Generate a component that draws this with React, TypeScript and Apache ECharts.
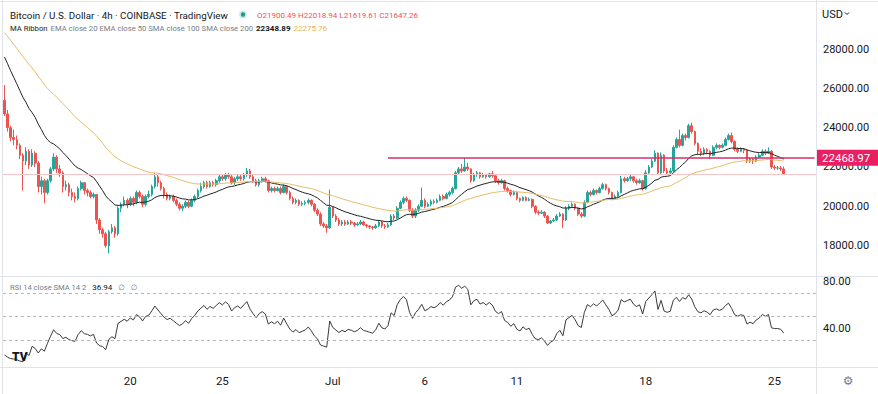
import React, { useEffect, useRef } from 'react';
import * as echarts from 'echarts';

// ---- data (BTC/USD, 4h candles, Coinbase) ----
const startTime = Date.UTC(2022, 5, 13, 4); // first candle
const candleHours = 4;
const emptySlots = 10; // blank space right of the last candle
const firstOpen = 25400;

const closes = [
  24700, 24000, 23500, 23400, 23100, 22600, 22300, 22800, 22100, 22700,
  22200, 21000, 21300, 20700, 21300, 21900, 22500, 21900, 21700, 21000,
  21100, 20700, 20500, 20400, 20900, 21200, 20800, 20700, 20500, 20600,
  19300, 18800, 18600, 18000, 18700, 18900, 18600, 19900, 20100, 20300,
  20100, 20400, 20200, 20700, 20500, 20100, 20500, 20600, 21000, 21500,
  21200, 20900, 20600, 20400, 20500, 20300, 20100, 19900, 20000, 20200,
  20000, 20300, 20500, 20800, 21000, 21200, 21000, 21200, 21100, 21300,
  21500, 21400, 21600, 21500, 21200, 21400, 21500, 21400, 21600, 21800,
  21500, 21300, 21100, 21300, 21400, 21300, 20800, 20900, 20800, 20900,
  20700, 21000, 20700, 20400, 20200, 20300, 20100, 20150, 20200, 20300,
  20100, 19800, 19600, 19100, 19000, 18900, 19950, 19500, 19300, 19100,
  19200, 19100, 19200, 19150, 19050, 19100, 19200, 19050, 19000, 18950,
  18900, 19000, 19200, 19000, 18950, 19050, 19500, 19400, 19900, 20200,
  20400, 20300, 19800, 19500, 19800, 20000, 20300, 20000, 20100, 20250,
  20200, 20300, 20500, 20400, 20600, 20700, 20900, 21700, 21900, 21800,
  22000, 21900, 21300, 21600, 21700, 21500, 21600, 21500, 21650, 21550,
  21300, 21200, 21300, 20900, 20800, 20600, 20700, 20400, 20300, 20450,
  20300, 20350, 20000, 19700, 19650, 19700, 19500, 19150, 19250, 19300,
  19500, 19600, 19300, 19900, 20000, 20100, 19900, 19600, 19500, 20200,
  20700, 20600, 20800, 20700, 20900, 21100, 20900, 20700, 20400, 20500,
  20700, 21400, 21300, 21400, 21500, 21300, 21200, 21300, 20900, 21700,
  22000, 22300, 22700, 21700, 22600, 21800, 21700, 21800, 23000, 23400,
  23100, 23600, 23500, 24100, 23800, 23200, 22800, 22700, 22900, 22800,
  22600, 23000, 23100, 23000, 23100, 23400, 23600, 23300, 22900, 22800,
  22900, 22850, 22300, 22400, 22300, 22500, 22600, 22800, 22700, 22800,
  22000, 21950, 21950, 21900.49, 21647.26,
];

const highs = [
  26170, 24900, 24100, 23900, 23600, 23200, 22700, 23000, 22900, 22900,
  22800, 22300, 21500, 21400, 21400, 22000, 22700, 22600, 22100, 21800,
  21300, 21200, 20900, 20700, 21000, 21300, 21200, 20900, 20800, 20700,
  20600, 19400, 18900, 18700, 18800, 19100, 19000, 20000, 20200, 20500,
  20400, 20500, 20500, 20800, 20800, 20600, 20600, 20800, 21100, 21700,
  21600, 21300, 21000, 20700, 20600, 20600, 20400, 20200, 20100, 20300,
  20300, 20400, 20600, 20900, 21200, 21300, 21300, 21300, 21300, 21400,
  21600, 21600, 21700, 21700, 21600, 21500, 21600, 21600, 21700, 21950,
  21900, 21600, 21400, 21400, 21500, 21500, 21350, 21000, 21000, 21000,
  21000, 21100, 21050, 20800, 20500, 20400, 20350, 20250, 20300, 20400,
  20350, 20150, 19900, 19700, 19200, 19100, 20850, 20000, 19600, 19400,
  19300, 19300, 19300, 19300, 19200, 19200, 19300, 19250, 19100, 19050,
  19000, 19100, 19300, 19250, 19100, 19150, 19600, 19600, 20000, 20300,
  20500, 20500, 20350, 19900, 19900, 20100, 20950, 20400, 20200, 20350,
  20350, 20400, 20600, 20600, 20700, 20800, 21000, 21800, 22000, 22150,
  22470, 22200, 21950, 21700, 21800, 21750, 21700, 21650, 21700, 21800,
  21600, 21400, 21400, 21350, 21000, 20850, 20800, 20750, 20450, 20500,
  20500, 20450, 20400, 20050, 19800, 19800, 19750, 19550, 19300, 19400,
  19600, 19700, 19650, 20000, 20100, 20200, 20150, 19950, 19700, 20300,
  20800, 20800, 20900, 20850, 21000, 21200, 21150, 20950, 20750, 20600,
  20800, 21550, 21500, 21500, 21650, 21550, 21400, 21400, 21350, 21850,
  22100, 22400, 22850, 22750, 22750, 22650, 21950, 21950, 23100, 23500,
  23900, 23700, 23700, 24200, 24250, 23850, 23250, 22950, 23000, 22950,
  22850, 23100, 23200, 23150, 23200, 23500, 23700, 23750, 23350, 23000,
  23000, 22950, 22900, 22500, 22450, 22600, 22700, 22900, 22900, 23000,
  22850, 22100, 22050, 22050, 22018.94,
];

const lows = [
  24600, 23800, 23300, 23100, 22900, 22400, 20800, 22100, 21900, 22000,
  22000, 20700, 20600, 20150, 20600, 21200, 21800, 21700, 21500, 20700,
  20800, 20500, 20300, 20200, 20300, 20800, 20600, 20500, 20400, 20400,
  19100, 18600, 18400, 17900, 17600, 18600, 18400, 18500, 19700, 20000,
  19900, 20000, 20000, 20100, 20400, 19950, 20000, 20400, 20500, 20900,
  21000, 20800, 20400, 20300, 20300, 20200, 20000, 19800, 19750, 19900,
  19900, 19950, 20200, 20400, 20700, 20900, 20900, 20950, 21000, 21000,
  21200, 21300, 21300, 21400, 21100, 21100, 21300, 21300, 21300, 21500,
  21400, 21200, 21000, 21000, 21200, 21200, 20700, 20700, 20700, 20750,
  20600, 20650, 20600, 20300, 20100, 20100, 20000, 20000, 20050, 20100,
  20000, 19700, 19500, 19000, 18900, 18650, 18850, 19400, 19200, 19000,
  19000, 19000, 19050, 19050, 18950, 19000, 19050, 19000, 18900, 18850,
  18800, 18850, 18950, 18900, 18850, 18900, 19000, 19300, 19350, 19850,
  20100, 20200, 19700, 19400, 19400, 19700, 19950, 19900, 19950, 20000,
  20100, 20150, 20250, 20300, 20350, 20500, 20600, 20850, 21600, 21700,
  21750, 21800, 21200, 21250, 21500, 21400, 21450, 21400, 21450, 21450,
  21200, 21100, 21150, 20800, 20700, 20500, 20550, 20300, 20200, 20250,
  20250, 20250, 19900, 19600, 19550, 19600, 19400, 19100, 19100, 19200,
  19250, 19450, 18900, 19250, 19800, 19950, 19800, 19500, 19400, 19450,
  20150, 20500, 20550, 20600, 20650, 20850, 20800, 20600, 20300, 20350,
  20450, 20650, 21200, 21250, 21300, 21200, 21100, 21150, 20800, 20850,
  21650, 21950, 22250, 21600, 21650, 21700, 21600, 21650, 21750, 22950,
  23000, 23050, 23350, 23450, 23700, 23100, 22650, 22550, 22600, 22700,
  22400, 22550, 22900, 22900, 22950, 23050, 23350, 23200, 22800, 22700,
  22750, 22700, 22200, 22200, 22150, 22250, 22450, 22550, 22600, 22650,
  21900, 21850, 21850, 21800, 21619.61,
];

// indicator seeds (values of the indicators just before the first visible candle)
const ema20Seed = 27900;
const ema50Seed = 29000;
const rsiGainSeed = 80;
const rsiLossSeed = 330;

const priceTicks = [18000, 20000, 22000, 24000, 26000, 28000];
const rsiTicks = [40, 80];
const rsiLevels = [70, 50, 30];
const timeTicks: [string, string][] = [
  ['2022-06-20 00:00', '20'],
  ['2022-06-25 00:00', '25'],
  ['2022-07-01 00:00', 'Jul'],
  ['2022-07-06 00:00', '6'],
  ['2022-07-11 00:00', '11'],
  ['2022-07-18 00:00', '18'],
  ['2022-07-25 00:00', '25'],
];
const resistanceLevel = 22468.97;
const resistanceStart = '2022-07-04 00:00';
const legendOHLC = 'O21900.49 H22018.94 L21619.61 C21647.26';
const legendEma20 = '22348.89';
const legendEma50 = '22275.76';
const legendRsi = '36.94';

// ---- colours ----
const UP = '#26a69a';
const DOWN = '#ef5350';
const FONT = 'Roboto, "Noto Sans", "DejaVu Sans", sans-serif';

const fmtTime = (t: number) => {
  const d = new Date(t);
  const p = (n: number) => String(n).padStart(2, '0');
  return `${d.getUTCFullYear()}-${p(d.getUTCMonth() + 1)}-${p(d.getUTCDate())} ${p(d.getUTCHours())}:00`;
};

export default function App() {
  const ref = useRef<HTMLDivElement>(null);

  useEffect(() => {
    if (!ref.current) return;
    const chart = echarts.init(ref.current, undefined, { renderer: 'svg' });

    const n = closes.length;
    const categories: string[] = [];
    for (let i = 0; i < n + emptySlots; i++) categories.push(fmtTime(startTime + i * candleHours * 3600000));
    const opens = closes.map((c, i) => (i === 0 ? firstOpen : closes[i - 1]));
    const candles = closes.map((c, i) => [
      opens[i], c,
      Math.min(lows[i], opens[i], c),
      Math.max(highs[i], opens[i], c),
    ]);
    const ema = (seed: number, len: number) => {
      const k = 2 / (len + 1);
      let e = seed;
      return closes.map((c) => (e = e + k * (c - e)));
    };
    const ema20 = ema(ema20Seed, 20);
    const ema50 = ema(ema50Seed, 50);
    let ag = rsiGainSeed, al = rsiLossSeed;
    const rsi = closes.map((c, i) => {
      const ch = c - opens[i];
      ag = (ag * 13 + Math.max(ch, 0)) / 14;
      al = (al * 13 + Math.max(-ch, 0)) / 14;
      return 100 - 100 / (1 + ag / al);
    });
    const tickMap = new Map(timeTicks);
    const lastClose = closes[n - 1];

    chart.setOption({
      animation: false,
      backgroundColor: '#ffffff',
      textStyle: { fontFamily: FONT },
      grid: [
        { left: 3, right: 62, top: 0, height: 276, outerBoundsMode: 'none', containLabel: false },
        { left: 3, right: 62, top: 276, height: 91, outerBoundsMode: 'none', containLabel: false },
      ],
      xAxis: [
        {
          type: 'category', gridIndex: 0, data: categories,
          axisLine: { show: false }, axisTick: { show: false }, axisLabel: { show: false }, splitLine: { show: false },
        },
        {
          type: 'category', gridIndex: 1, data: categories,
          axisLine: { show: false }, axisTick: { show: false }, splitLine: { show: false },
          axisLabel: {
            interval: (_i: number, v: string) => tickMap.has(v),
            formatter: (v: string) => tickMap.get(v) || '',
            color: '#131722', fontSize: 11.5, margin: 8, fontFamily: FONT,
          },
        },
      ],
      yAxis: [
        {
          type: 'value', gridIndex: 0, position: 'right', min: 16450, max: 30500,
          splitLine: { show: false }, axisLine: { show: false }, axisTick: { show: false },
          axisLabel: {
            customValues: priceTicks, formatter: (v: number) => v.toFixed(2),
            color: '#131722', fontSize: 11, margin: 7, fontFamily: FONT,
          },
        },
        {
          type: 'value', gridIndex: 1, position: 'right', min: 7, max: 84.5,
          splitLine: { show: false }, axisLine: { show: false }, axisTick: { show: false },
          axisLabel: {
            customValues: rsiTicks, formatter: (v: number) => v.toFixed(2),
            color: '#131722', fontSize: 11, margin: 7, fontFamily: FONT,
          },
        },
      ],
      series: [
        {
          type: 'candlestick', xAxisIndex: 0, yAxisIndex: 0, data: candles, barWidth: '68%',
          itemStyle: { color: UP, color0: DOWN, borderColor: UP, borderColor0: DOWN, borderWidth: 1 },
          markLine: {
            silent: true, symbol: 'none', animation: false,
            label: { show: false },
            data: [
              { yAxis: lastClose, lineStyle: { color: '#f6c4c4', width: 1, type: 'solid' } },
              [
                { coord: [resistanceStart, resistanceLevel], lineStyle: { color: '#d3306a', width: 1.6, type: 'solid' } },
                { coord: [categories[categories.length - 1], resistanceLevel] },
              ],
            ],
          },
          z: 3,
        },
        {
          type: 'line', xAxisIndex: 0, yAxisIndex: 0, data: ema20, showSymbol: false, symbol: 'none',
          lineStyle: { color: '#222222', width: 1 }, z: 4,
        },
        {
          type: 'line', xAxisIndex: 0, yAxisIndex: 0, data: ema50, showSymbol: false, symbol: 'none',
          lineStyle: { color: '#e6bd66', width: 1 }, z: 4,
        },
        {
          type: 'line', xAxisIndex: 1, yAxisIndex: 1, data: rsi, showSymbol: false, symbol: 'none',
          lineStyle: { color: '#3a3a3a', width: 1 },
          markLine: {
            silent: true, symbol: 'none', animation: false, label: { show: false },
            lineStyle: { color: '#b2b5be', width: 1, type: [3, 3] },
            data: rsiLevels.map((v) => ({ yAxis: v })),
          },
        },
      ],
    });

    const yRes = chart.convertToPixel({ yAxisIndex: 0 }, resistanceLevel) as number;
    const txt = (x: number, y: number, text: string, size: number, fill: string, extra: any = {}, z = 100) => ({
      type: 'text', x, y, z,
      style: { text, fill, fontSize: size, fontFamily: FONT, verticalAlign: 'middle', align: 'left', ...extra },
    });
    const rich = (x: number, y: number, text: string, richStyles: any) => ({
      type: 'text', x, y, z: 100,
      style: { text, fontFamily: FONT, verticalAlign: 'middle', align: 'left', rich: richStyles },
    });
    const line = (x1: number, y1: number, x2: number, y2: number, stroke = '#e0e3eb') => ({
      type: 'line', z: 90, shape: { x1, y1, x2, y2 }, style: { stroke, lineWidth: 1 },
    });

    chart.setOption({
      graphic: [
        line(0, 1.5, 878, 1.5),
        line(2.5, 0, 2.5, 394),
        line(0, 276.5, 878, 276.5),
        line(0, 367.5, 878, 367.5),
        line(816.5, 0, 816.5, 394),
        txt(10, 15, 'Bitcoin / U.S. Dollar · 4h · COINBASE · TradingView', 9.8, '#131722'),
        { type: 'circle', z: 100, shape: { cx: 243, cy: 14.5, r: 4 }, style: { fill: 'rgba(38,166,154,0.25)' } },
        { type: 'circle', z: 101, shape: { cx: 243, cy: 14.5, r: 2.2 }, style: { fill: '#1f9b86' } },
        txt(257, 15, legendOHLC, 8, DOWN),
        rich(10, 28, `{a|MA Ribbon} {b|EMA close 20 EMA close 50 SMA close 100 SMA close 200} {c|${legendEma20}} {d|${legendEma50}}`, {
          a: { fontSize: 7.7, fill: '#131722', fontFamily: FONT },
          b: { fontSize: 7.7, fill: '#787b86', fontFamily: FONT },
          c: { fontSize: 8, fill: '#131722', fontWeight: 'bold', fontFamily: FONT },
          d: { fontSize: 8, fill: '#e0b256', fontFamily: FONT },
        }),
        txt(822, 14, 'USD', 11, '#131722'),
        { type: 'polyline', z: 100, shape: { points: [[845, 12.5], [847, 14.5], [849, 12.5]] }, style: { stroke: '#131722', lineWidth: 1, fill: 'none' } },
        rich(10, 287, `{a|RSI 14 close SMA 14 2}  {b|${legendRsi}}  {a|∅}  {a|∅}`, {
          a: { fontSize: 7.6, fill: '#787b86', fontFamily: FONT },
          b: { fontSize: 8, fill: '#131722', fontFamily: FONT },
        }),
        txt(12, 357, 'TV', 12, '#131722', { fontWeight: 900 }),
        { type: 'rect', z: 110, shape: { x: 817, y: yRes - 8, width: 61, height: 16 }, style: { fill: '#e91e63' } },
        txt(822, yRes, resistanceLevel.toFixed(2), 11.5, '#ffffff', {}, 120),
        txt(848, 381, '⚙', 12, '#787b86', { align: 'center' }),
      ],
    });

    return () => chart.dispose();
  }, []);

  return <div ref={ref} style={{ position: 'absolute', left: 0, top: 0, width: 878, height: 394 }} />;
}
